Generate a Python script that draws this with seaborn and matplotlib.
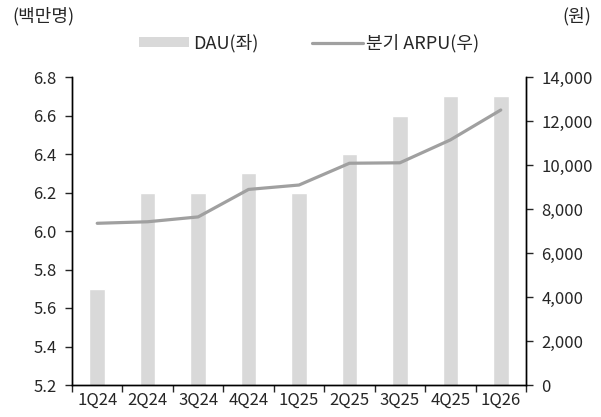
import matplotlib
matplotlib.use('Agg')
import matplotlib.pyplot as plt
import seaborn as sns
import pandas as pd
from matplotlib.ticker import FuncFormatter, FixedLocator
from matplotlib.patches import Patch
from matplotlib.lines import Line2D

quarters = ['1Q24', '2Q24', '3Q24', '4Q24', '1Q25', '2Q25', '3Q25', '4Q25', '1Q26']
dau = [5.7, 6.2, 6.2, 6.3, 6.2, 6.4, 6.6, 6.7, 6.7]
arpu = [7350, 7420, 7640, 8890, 9090, 10080, 10100, 11140, 12500]

bar_color = '#d9d9d9'
line_color = '#a0a0a0'

sns.set_style('ticks')
plt.rcParams['font.family'] = ['Noto Sans CJK KR', 'DejaVu Sans']
plt.rcParams['font.size'] = 12

df = pd.DataFrame({'quarter': quarters, 'dau': dau, 'arpu': arpu})

fig = plt.figure(figsize=(6.01, 4.17), dpi=100)
ax = fig.add_axes([72 / 601, 1 - 385 / 417, (526 - 72) / 601, (385 - 77) / 417])

sns.barplot(data=df, x='quarter', y='dau', color=bar_color, width=0.31,
            saturation=1, ax=ax)
ax2 = ax.twinx()
sns.lineplot(x=list(range(len(quarters))), y=df['arpu'], color=line_color,
             linewidth=2.3, ax=ax2)

ax.set_xlim(-0.5, len(quarters) - 0.5)
ax.set_ylim(5.2, 6.8)
ax.set_yticks([5.2 + 0.2 * i for i in range(9)])
ax.yaxis.set_major_formatter(FuncFormatter(lambda v, p: f'{v:.1f}'))
ax2.set_ylim(0, 14000)
ax2.set_yticks(range(0, 14001, 2000))
ax2.yaxis.set_major_formatter(FuncFormatter(lambda v, p: f'{int(v):,}'))

ax.set_xticks(range(len(quarters)))
ax.set_xticklabels(quarters)
ax.xaxis.set_minor_locator(FixedLocator([i - 0.5 for i in range(len(quarters) + 1)]))
ax.tick_params(axis='x', which='major', length=0, pad=5, labelsize=12)
ax.tick_params(axis='x', which='minor', length=5, width=1, direction='out')
ax.tick_params(axis='y', length=5, width=1, direction='out', labelsize=12, pad=6)
ax2.tick_params(axis='y', length=5, width=1, direction='out', labelsize=12, pad=6)

for a in (ax, ax2):
    a.set_xlabel('')
    a.set_ylabel('')
    a.spines['top'].set_visible(False)
    for s in ('left', 'right', 'bottom'):
        a.spines[s].set_linewidth(1)
        a.spines[s].set_color('black')

fig.text(12 / 601, 1 - 16 / 417, '(백만명)', fontsize=13, va='center', ha='left')
fig.text(591 / 601, 1 - 16 / 417, '(원)', fontsize=13, va='center', ha='right')

handles = [Patch(facecolor=bar_color, edgecolor='none'),
           Line2D([0], [0], color=line_color, linewidth=2.3)]
fig.legend(handles, ['DAU(좌)', '분기 ARPU(우)'], loc='center',
           bbox_to_anchor=(309 / 601, 1 - 43 / 417), ncol=2, frameon=False,
           fontsize=13, handlelength=2.8, handleheight=0.45, columnspacing=3.0,
           handletextpad=0.2)

fig.savefig('out.png', dpi=100)
